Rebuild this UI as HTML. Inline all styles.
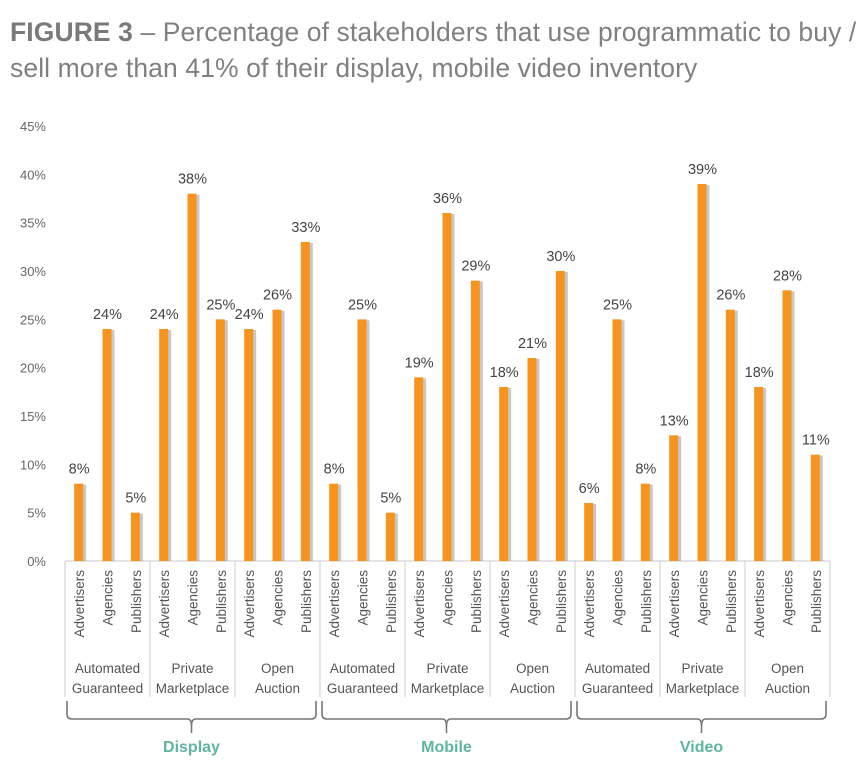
<!DOCTYPE html>
<html><head><meta charset="utf-8"><style>
html,body{margin:0;padding:0;background:#fff;}
body{width:864px;height:781px;overflow:hidden;font-family:"Liberation Sans",sans-serif;}
#title{position:absolute;left:10px;top:14px;font-size:26.5px;line-height:36px;color:#808080;letter-spacing:0.1px;white-space:nowrap;}
#title b{color:#7a7a7a;}
svg{position:absolute;left:0;top:0;}
</style></head><body>
<div id="title"><b>FIGURE 3</b> – Percentage of stakeholders that use programmatic to buy /<br>sell more than 41% of their display, mobile video inventory</div>
<svg id="chart" width="864" height="781"></svg>
<script>
const yTicks=[0,5,10,15,20,25,30,35,40,45];
const media=["Display","Mobile","Video"];
const deals=[["Automated","Guaranteed"],["Private","Marketplace"],["Open","Auction"]];
const stakeholders=["Advertisers","Agencies","Publishers"];
const displayVals=[8,24,5,24,38,25,24,26,33];
const mobileVals=[8,25,5,19,36,29,18,21,30];
const videoVals=[6,25,8,13,39,26,18,28,11];
const allVals=[displayVals,mobileVals,videoVals];

const NS="http://www.w3.org/2000/svg";
const svg=document.getElementById('chart');
const x0=65,x1=830,y0=561,yTop=126,yMax=45;
const nGroups=media.length*deals.length;
const gW=(x1-x0)/nGroups, slot=gW/3;
function y(v){return y0-(v/yMax)*(y0-yTop);}
function el(t,a){const e=document.createElementNS(NS,t);for(const k in a)e.setAttribute(k,a[k]);svg.appendChild(e);return e;}
const F='"Liberation Sans",sans-serif';

yTicks.forEach(t=>{
  const e=el('text',{x:46,y:y(t)+5,'text-anchor':'end','font-size':13,fill:'#666','font-family':F});
  e.textContent=t+'%';
  
  
});

for(let g=0;g<=nGroups;g++){
  const l=el('line',{x1:x0+g*gW,x2:x0+g*gW,y1:y0,y2:697,stroke:'#d4d4d4','stroke-width':1.2});
  
  
}
const bl=el('line',{x1:x0,x2:x1,y1:y0,y2:y0,stroke:'#d4d4d4','stroke-width':1.2});



allVals.forEach((vals,m)=>{
  vals.forEach((v,i)=>{
    const cx=x0+(m*9+i)*slot+slot/2;
    const sh=el('rect',{x:cx-3,y:y(v)+1,width:10,height:y0-y(v)-1,fill:'#9a9a9a',opacity:0.55});
    
    
    const r=el('rect',{x:cx-5,y:y(v),width:9,height:y0-y(v),fill:'#f7941d'});
    
    
    const t=el('text',{x:cx,y:y(v)-10,'text-anchor':'middle','font-size':14.5,fill:'#444','font-family':F});
    t.textContent=v+'%';
    
    
    const s=el('text',{transform:'translate('+(cx+5)+',570) rotate(-90)','text-anchor':'end','font-size':13.5,fill:'#555','font-family':F});
    s.textContent=stakeholders[i%3];
    
    
  });
  deals.forEach((d,k)=>{
    const cx=x0+(m*3+k)*gW+gW/2;
    d.forEach((line,j)=>{
      const t=el('text',{x:cx,y:673+j*20,'text-anchor':'middle','font-size':13.5,fill:'#555','font-family':F});
      t.textContent=line;
      
      
    });
  });
  const bx0=x0+m*3*gW+2, bx1=x0+(m+1)*3*gW-4, mid=(bx0+bx1)/2;
  const p=el('path',{d:`M${bx0},701 V714 Q${bx0},719 ${bx0+5},719 H${mid-4} Q${mid},719 ${mid},726 V733 M${mid},726 Q${mid},719 ${mid+4},719 H${bx1-5} Q${bx1},719 ${bx1},714 V701`,fill:'none',stroke:'#777','stroke-width':1.6});
  
  
  const mt=el('text',{x:mid,y:752,'text-anchor':'middle','font-size':16,'font-weight':'bold',fill:'#5fb5a0','font-family':F});
  mt.textContent=media[m];
  
  
});
</script>
</body></html>
